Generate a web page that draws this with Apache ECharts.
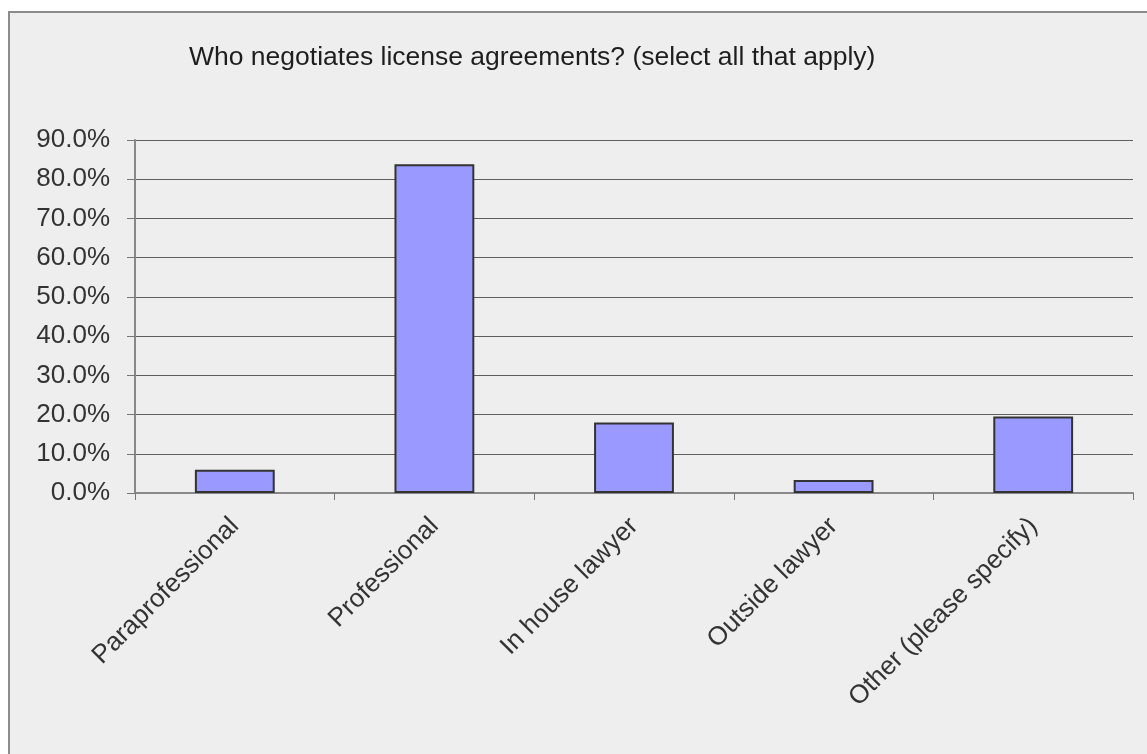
<!DOCTYPE html>
<html>
<head>
<meta charset="utf-8">
<style>
  html, body { margin: 0; padding: 0; background: #ffffff; }
  #chart { width: 1147px; height: 754px; }
</style>
<script src="https://cdn.jsdelivr.net/npm/echarts@6/dist/echarts.min.js"></script>
</head>
<body>
<div id="chart"></div>
<script>
// Survey responses: who negotiates license agreements (multiple answers allowed)
const categories = ['Paraprofessional', 'Professional', 'In house lawyer', 'Outside lawyer', 'Other (please specify)'];
const shares = [5.9, 83.8, 18.0, 3.3, 19.5];
const titleText = 'Who negotiates license agreements? (select all that apply)';

const chart = echarts.init(document.getElementById('chart'), null, { renderer: 'canvas' });

const font = 'Liberation Sans, Arial, sans-serif';

chart.setOption({
  backgroundColor: '#ffffff',
  animation: false,
  graphic: [{
    type: 'rect',
    z: -10,
    shape: { x: 9, y: 12, width: 1150, height: 760 },
    style: { fill: '#eeeeee', stroke: '#8c8c8c', lineWidth: 2 }
  }],
  title: {
    text: titleText,
    left: 184,
    top: 39,
    textStyle: { fontFamily: font, fontSize: 26.5, fontWeight: 'normal', color: '#1e1e1e' }
  },
  grid: { left: 135, right: 14, top: 140, bottom: 261, containLabel: false },
  xAxis: {
    type: 'category',
    data: categories,
    axisLine: { lineStyle: { color: '#888888', width: 2 } },
    axisTick: { show: true, length: 7, alignWithLabel: false, lineStyle: { color: '#777777', width: 1 } },
    axisLabel: {
      rotate: 45,
      margin: 29,
      interval: 0,
      fontFamily: font,
      fontSize: 26,
      color: '#333333'
    },
    splitLine: { show: false }
  },
  yAxis: {
    type: 'value',
    min: 0,
    max: 90,
    interval: 10,
    axisLine: { show: true, lineStyle: { color: '#888888', width: 2 } },
    axisTick: { show: true, length: 8, lineStyle: { color: '#777777', width: 1 } },
    axisLabel: {
      margin: 25,
      fontFamily: font,
      fontSize: 26,
      color: '#333333',
      formatter: v => v.toFixed(1) + '%'
    },
    splitLine: { show: true, lineStyle: { color: '#5e5e5e', width: 1 } }
  },
  series: [{
    type: 'bar',
    data: shares,
    barWidth: '40%',
    itemStyle: { color: '#9999ff', borderColor: '#333333', borderWidth: 2 }
  }]
});
</script>
</body>
</html>
